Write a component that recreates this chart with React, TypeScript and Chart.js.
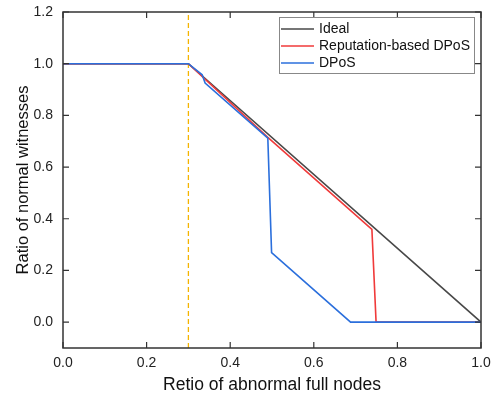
import React, { useEffect, useRef } from "react";
import { Chart, registerables } from "chart.js";

Chart.register(...registerables);

const xTicks = [0, 0.2, 0.4, 0.6, 0.8, 1.0];
const yTicks = [0, 0.2, 0.4, 0.6, 0.8, 1.0, 1.2];

const idealX = [0, 0.3, 1.0];
const idealY = [1, 1, 0];

const repX = [0, 0.3, 0.49, 0.739, 0.749, 1.0];
const repY = [1, 1, 0.715, 0.359, 0, 0];

const dposX = [0, 0.3, 0.333, 0.34, 0.49, 0.499, 0.688, 1.0];
const dposY = [1, 1, 0.957, 0.925, 0.712, 0.269, 0, 0];

const thresholdX = [0.3, 0.3];
const thresholdY = [-0.1, 1.2];

const labels = ["Ideal", "Reputation-based DPoS", "DPoS"];
const colors = ["#484848", "#f03a3a", "#2b6fdc"];

const pts = (xs: number[], ys: number[]) => xs.map((x, i) => ({ x, y: ys[i] }));

const FONT = "'Liberation Sans', Arial, sans-serif";

const framePlugin = {
  id: "frame",
  afterDraw(chart: any) {
    const { ctx, chartArea: a, scales } = chart;
    const x = scales.x;
    const y = scales.y;
    ctx.save();
    ctx.strokeStyle = "#333";
    ctx.lineWidth = 1.5;
    ctx.strokeRect(a.left, a.top, a.right - a.left, a.bottom - a.top);
    ctx.lineWidth = 1.2;
    const L = 6;
    ctx.beginPath();
    xTicks.forEach((v) => {
      const px = x.getPixelForValue(v);
      ctx.moveTo(px, a.bottom);
      ctx.lineTo(px, a.bottom - L);
      ctx.moveTo(px, a.top);
      ctx.lineTo(px, a.top + L);
    });
    yTicks.forEach((v) => {
      const py = y.getPixelForValue(v);
      ctx.moveTo(a.left, py);
      ctx.lineTo(a.left + L, py);
      ctx.moveTo(a.right, py);
      ctx.lineTo(a.right - L, py);
    });
    ctx.stroke();

    // legend
    const bx = 279, by = 17, bw = 195, bh = 56;
    ctx.fillStyle = "#fff";
    ctx.fillRect(bx, by, bw, bh);
    ctx.strokeStyle = "#888";
    ctx.lineWidth = 1;
    ctx.strokeRect(bx + 0.5, by + 0.5, bw, bh);
    ctx.font = `14px ${FONT}`;
    ctx.textBaseline = "middle";
    ctx.textAlign = "left";
    labels.forEach((lab, i) => {
      const cy = by + 12 + i * 17;
      ctx.strokeStyle = colors[i];
      ctx.lineWidth = 1.5;
      ctx.beginPath();
      ctx.moveTo(bx + 2, cy);
      ctx.lineTo(bx + 35, cy);
      ctx.stroke();
      ctx.fillStyle = "#111";
      ctx.fillText(lab, bx + 40, cy);
    });
    ctx.restore();
  },
};

export default function App() {
  const ref = useRef<HTMLCanvasElement>(null);
  useEffect(() => {
    document.body.style.margin = "0";
    const chart = new Chart(ref.current as HTMLCanvasElement, {
      type: "line",
      data: {
        datasets: [
          {
            label: labels[2],
            data: pts(dposX, dposY),
            borderColor: colors[2],
            borderWidth: 1.6,
            pointRadius: 0,
            order: 0,
          },
          {
            label: labels[1],
            data: pts(repX, repY),
            borderColor: colors[1],
            borderWidth: 1.6,
            pointRadius: 0,
            order: 1,
          },
          {
            label: labels[0],
            data: pts(idealX, idealY),
            borderColor: colors[0],
            borderWidth: 1.6,
            pointRadius: 0,
            order: 2,
          },
          {
            label: "threshold",
            data: pts(thresholdX, thresholdY),
            borderColor: "#f5b400",
            borderWidth: 1.3,
            borderDash: [5, 3],
            pointRadius: 0,
            order: 3,
          },
        ],
      },
      options: {
        responsive: false,
        animation: false,
        layout: { padding: { top: 12, right: 15, left: 14, bottom: 0 } },
        plugins: { legend: { display: false }, tooltip: { enabled: false } },
        scales: {
          x: {
            type: "linear",
            min: 0,
            max: 1,
            afterBuildTicks: (s: any) => {
              s.ticks = xTicks.map((v) => ({ value: v }));
            },
            afterFit: (s: any) => {
              s.height = 52;
              s.paddingLeft = 0;
              s.paddingRight = 0;
            },
            grid: { display: false, drawTicks: false },
            border: { display: false },
            ticks: {
              padding: 7,
              color: "#222",
              font: { family: FONT, size: 14 },
              callback: (v: any) => Number(v).toFixed(1),
            },
            title: {
              display: true,
              text: "Retio of abnormal full nodes",
              color: "#111",
              font: { family: FONT, size: 17.5 },
              padding: { top: 5 },
            },
          },
          y: {
            type: "linear",
            min: -0.1,
            max: 1.2,
            afterBuildTicks: (s: any) => {
              s.ticks = yTicks.map((v) => ({ value: v }));
            },
            afterFit: (s: any) => {
              s.width = 49;
              s.paddingTop = 0;
              s.paddingBottom = 0;
            },
            grid: { display: false, drawTicks: false },
            border: { display: false },
            ticks: {
              padding: 10,
              color: "#222",
              font: { family: FONT, size: 14 },
              callback: (v: any) => Number(v).toFixed(1),
            },
            title: {
              display: true,
              text: "Ratio of normal witnesses",
              color: "#111",
              font: { family: FONT, size: 16.5 },
              padding: { bottom: 0, top: 0 },
            },
          },
        },
      },
      plugins: [framePlugin],
    });
    return () => chart.destroy();
  }, []);
  return <canvas ref={ref} width={496} height={400} style={{ display: "block" }} />;
}
